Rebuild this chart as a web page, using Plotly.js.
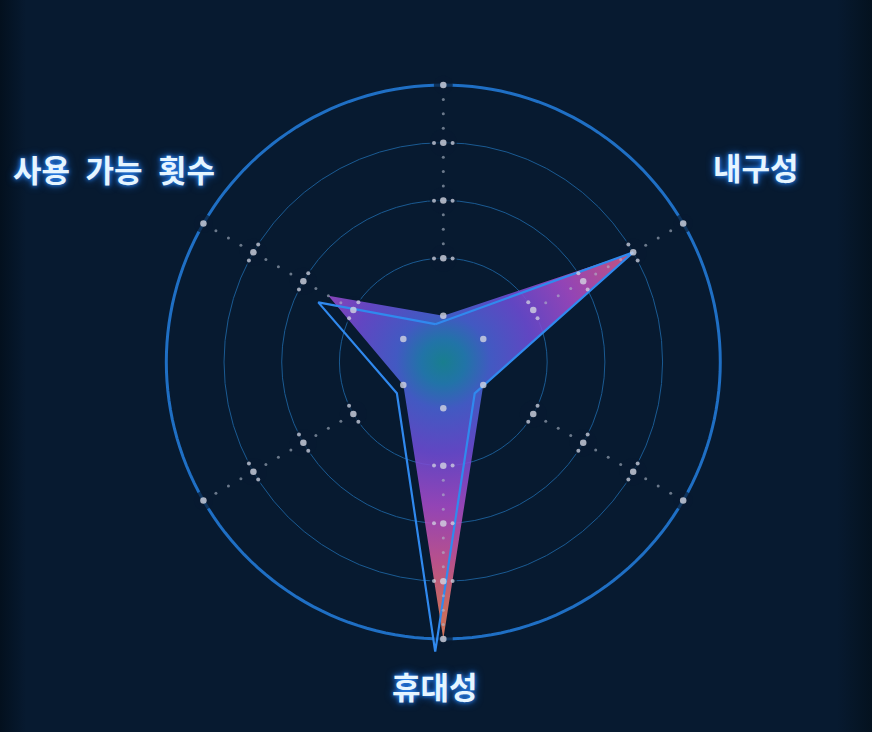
<!DOCTYPE html>
<html>
<head>
<meta charset="utf-8">
<script src="https://cdn.plot.ly/plotly-3.0.1.min.js"></script>
<style>
  html, body { margin: 0; padding: 0; }
  body { background: linear-gradient(90deg, #03101e 0%, #071a30 3%, #071a30 96%, #04121f 100%); }
  #chart { width: 872px; height: 732px; }
</style>
</head>
<body>
<div id="chart"></div>
<script>
// axis names (only three of the six spokes carry a name)
var categories = ['내구성', '사용 가능 횟수', '휴대성'];

// filled series, angles in degrees (counterclockwise from east)
var fillTheta = [90, 30, 330, 270, 210, 150];
var fillValues = [1, 4, 1, 5, 1, 2.5];

// outline-only series, slightly off the spokes
var lineTheta = [102, 30, 315, 268.4, 214, 154.5];
var lineValues = [0.87, 4, 0.97, 5.22, 1.17, 2.6];

// grid
var spokeAngles = [90, 30, 330, 270, 210, 150];
var ringValues = [1, 2, 3, 4, 5];

var rMin = 0.2, rMax = 5, rView = 5.3;   // a bit of room past the outer ring
var bg = '#071a30';
var pxPerUnit = 277 / (rMax - rMin);

// outer ring, drawn as a closed line at the top ring value
var ringTheta = [], ringR = [];
for (var t = 0; t <= 360; t += 2) { ringTheta.push(t); ringR.push(rMax); }

// spoke dots + little gaps in the rings where a spoke crosses
var maskR = [], maskT = [], maskS = [];
var bigR = [], bigT = [];
var flankR = [], flankT = [];
var smallR = [], smallT = [];
spokeAngles.forEach(function(a) {
  ringValues.forEach(function(v, i) {
    bigR.push(v); bigT.push(a);
    if (i > 0) {
      maskR.push(v); maskT.push(a); maskS.push(v === rMax ? 19 : 27);
    }
    if (i > 0 && i < ringValues.length - 1) {
      var off = 9.3 / ((v - rMin) * pxPerUnit) * 180 / Math.PI;
      flankR.push(v, v); flankT.push(a - off, a + off);
      [0.25, 0.5, 0.75].forEach(function(f) { smallR.push(v + f); smallT.push(a); });
    }
  });
});

var traces = [
  {
    type: 'scatterpolar', r: ringR, theta: ringTheta, mode: 'lines',
    line: {color: '#1f6fc4', width: 3}, hoverinfo: 'skip'
  },
  {
    type: 'scatterpolar', r: maskR, theta: maskT, mode: 'markers',
    marker: {color: bg, size: maskS, line: {width: 0}},
    hoverinfo: 'skip'
  },
  {
    type: 'scatterpolar', r: fillValues, theta: fillTheta,
    mode: 'none', fill: 'toself', fillcolor: 'rgba(110,80,220,0.9)'
  },
  {
    type: 'scatterpolar', r: lineValues.concat([lineValues[0]]), theta: lineTheta.concat([lineTheta[0]]),
    mode: 'lines', line: {color: '#3089ee', width: 2.2}
  },
  {
    type: 'scatterpolar', r: smallR, theta: smallT, mode: 'markers',
    marker: {color: 'rgba(175,185,200,0.6)', size: 3}, hoverinfo: 'skip'
  },
  {
    type: 'scatterpolar', r: flankR, theta: flankT, mode: 'markers',
    marker: {color: 'rgba(210,212,225,0.75)', size: 4}, hoverinfo: 'skip'
  },
  {
    type: 'scatterpolar', r: bigR, theta: bigT, mode: 'markers',
    marker: {color: 'rgba(210,212,225,0.8)', size: 6.5}, hoverinfo: 'skip'
  }
];

var labelFont = {
  family: 'Noto Sans CJK KR', size: 31, color: '#e6f5ff', weight: 700,
  shadow: '0 0 4px #2d8dff, 0 0 9px #1c6de0'
};

var layout = {
  width: 872,
  height: 732,
  margin: {l: 0, r: 0, t: 0, b: 0},
  paper_bgcolor: 'rgba(0,0,0,0)',
  showlegend: false,
  polar: {
    domain: {x: [0.17087, 0.84587], y: [0.10340, 0.90753]},
    bgcolor: 'rgba(0,0,0,0)',
    radialaxis: {
      range: [rMin, rView], tickmode: 'array', tickvals: [2, 3, 4],
      showticklabels: false, ticks: '', showline: false,
      gridcolor: '#1a5a92', gridwidth: 1.3, layer: 'below traces'
    },
    angularaxis: {
      type: 'linear', rotation: 0, direction: 'counterclockwise',
      showgrid: false, showticklabels: false, ticks: '',
      showline: false, layer: 'below traces'
    }
  },
  annotations: [
    {text: categories[0], xref: 'paper', yref: 'paper', x: 755.5 / 872, y: 1 - 167 / 732,
     xanchor: 'center', yanchor: 'middle', showarrow: false, font: labelFont},
    {text: categories[1].replace(/ /g, '\u2002'), xref: 'paper', yref: 'paper', x: 114 / 872, y: 1 - 168 / 732,
     xanchor: 'center', yanchor: 'middle', showarrow: false, font: labelFont},
    {text: categories[2], xref: 'paper', yref: 'paper', x: 435 / 872, y: 1 - 685 / 732,
     xanchor: 'center', yanchor: 'middle', showarrow: false, font: labelFont}
  ]
};

Plotly.newPlot('chart', traces, layout, {displayModeBar: false}).then(function(gd) {
  // radial colour ramp for the star, centred on the polar centre
  var sub = gd._fullLayout.polar._subplot;
  var ns = 'http://www.w3.org/2000/svg';
  var defs = gd.querySelector('svg.main-svg defs');
  var grad = document.createElementNS(ns, 'radialGradient');
  grad.setAttribute('id', 'starFill');
  grad.setAttribute('gradientUnits', 'userSpaceOnUse');
  grad.setAttribute('cx', sub.cxx);
  grad.setAttribute('cy', sub.cyy);
  grad.setAttribute('r', 277);
  var stops = [
    [0, '#1b8c9c'], [0.08, '#2580b8'], [0.17, '#4a62d6'], [0.33, '#6e4cd6'],
    [0.52, '#a64ac8'], [0.72, '#d05898'], [0.88, '#e27468'], [1, '#ea8060']
  ];
  stops.forEach(function(s) {
    var st = document.createElementNS(ns, 'stop');
    st.setAttribute('offset', s[0]);
    st.setAttribute('stop-color', s[1]);
    grad.appendChild(st);
  });
  defs.appendChild(grad);
  var fillPath = gd.querySelectorAll('.polarlayer .trace')[2].querySelector('.js-fill');
  if (fillPath) {
    fillPath.style.fill = 'url(#starFill)';
    fillPath.style.fillOpacity = 0.88;
  }
});
</script>
</body>
</html>
